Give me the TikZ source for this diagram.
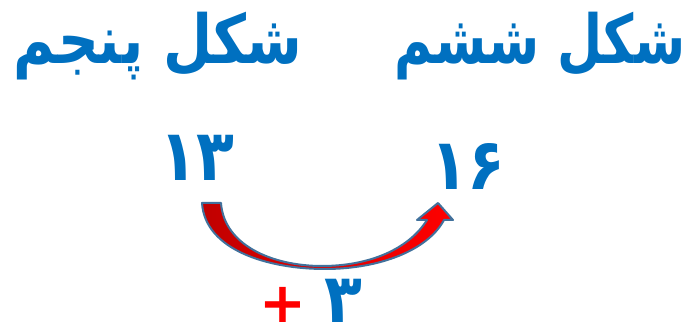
\documentclass[tikz,border=0pt]{standalone}
\usepackage{fontspec}
\TeXXeTstate=1
\newfontfamily\arabicfont[Script=Arabic]{DejaVu Sans}
\definecolor{pblue}{HTML}{0070C0}
\definecolor{adark}{HTML}{C00000}
\definecolor{abright}{HTML}{FF0000}
\definecolor{aline}{HTML}{41719C}
\begin{document}
\begin{tikzpicture}[x=1pt,y=-1pt,
  titletext/.style={text=pblue,font=\arabicfont\bfseries\fontsize{52}{56}\selectfont,inner sep=0pt,anchor=base},
  numtext/.style={text=pblue,font=\arabicfont\bfseries\fontsize{62}{70}\selectfont,inner sep=0pt},
  plustext/.style={text=abright,font=\arabicfont\bfseries\fontsize{56}{60}\selectfont,inner sep=0pt},
  curvearrow/.style={draw=aline,line width=2pt,line join=round,left color=adark,right color=abright}]
\useasboundingbox (0,0) rectangle (689,336);
\node[titletext] (t6) at (540,64) {\scalebox{1}[1.3]{\beginR شکل ششم\endR}};
\node[titletext] (t5) at (158,64) {\scalebox{1.09}[1.3]{\beginR شکل پنجم\endR}};
\node[numtext,anchor=base] (n13) at (197,181) {\scalebox{1}[1.15]{۱۳}};
\node[numtext,anchor=base] (n16) at (468,190) {\scalebox{1}[1.15]{۱۶}};
\node[plustext] (plus) at (283,305) {+};
\node[numtext] (three) at (343,301) {\scalebox{1}[1.1]{۳}};
\path[curvearrow] (202,203) .. controls (205,250) and (268,269) .. (325,269)
  .. controls (380,269) and (428,250) .. (444,220)
  -- (453,220) -- (438,203) -- (417,220) -- (427,220)
  .. controls (408,250) and (368,266) .. (322,266)
  .. controls (272,266) and (224,245) .. (221,203) -- cycle;
\end{tikzpicture}
\end{document}
